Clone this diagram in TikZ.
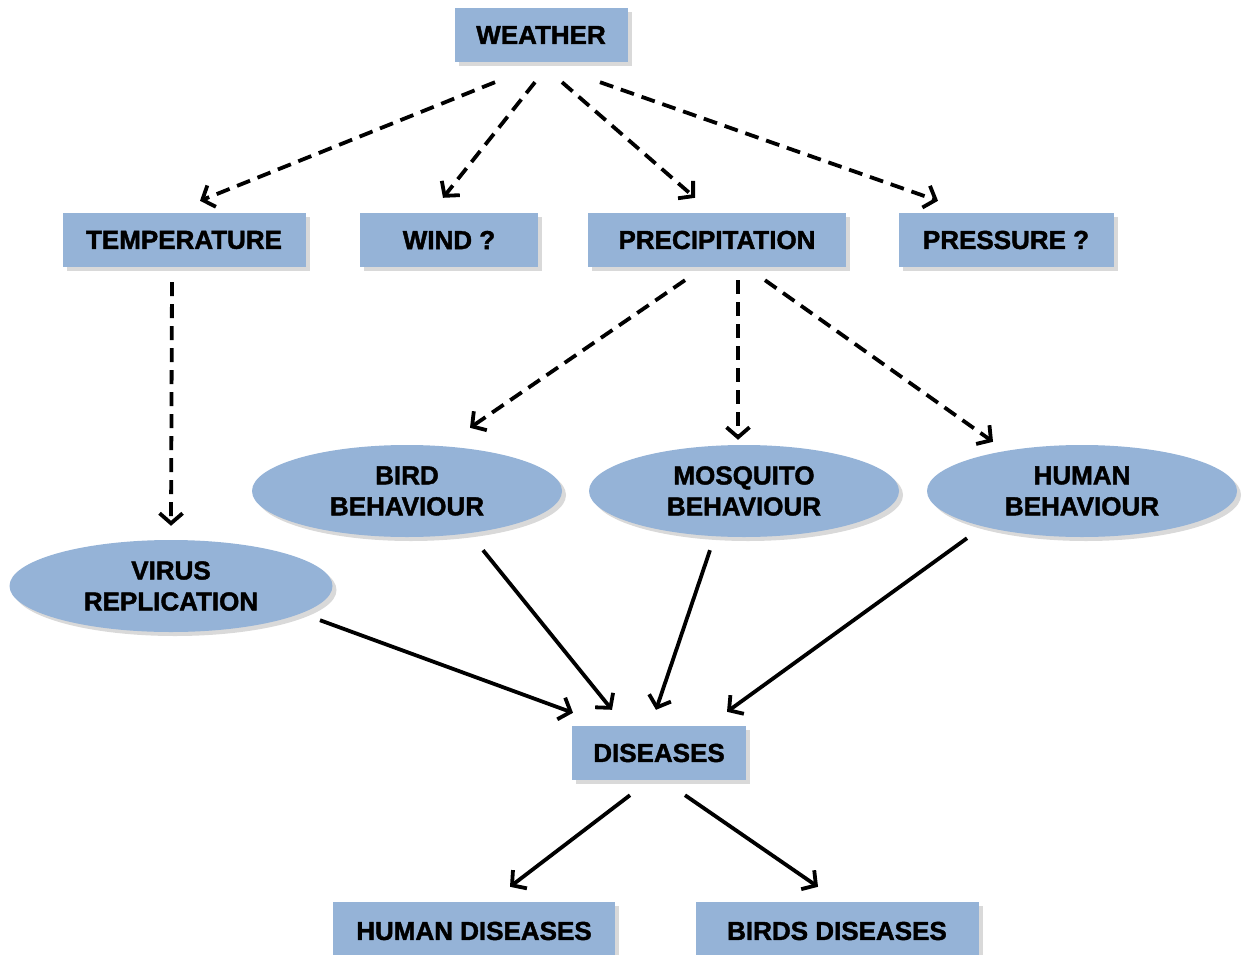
\documentclass[tikz,border=0pt]{standalone}
\usepackage{fontspec}
\setmainfont{Liberation Sans}[BoldFeatures={FakeBold=1.6}]
\usetikzlibrary{shapes.geometric,shadows,arrows.meta}
\definecolor{boxblue}{RGB}{149,179,215}

\begin{document}
\begin{tikzpicture}[x=1pt,y=-1pt,
    box/.style={fill=boxblue, minimum height=54pt, inner sep=0pt,
        font=\fontsize{26}{31}\selectfont\bfseries,
        drop shadow={opacity=.3,shadow xshift=4pt,shadow yshift=-4pt}},
    oval/.style={ellipse, fill=boxblue, inner sep=0pt, align=center,
        minimum width=310pt, minimum height=92pt,
        font=\fontsize{26}{31}\selectfont\bfseries,
        drop shadow={opacity=.3,shadow xshift=4pt,shadow yshift=-4pt}},
    dasharrow/.style={line width=3.8pt, dash pattern=on 14pt off 8pt,
        -{Straight Barb[length=10pt,width=23pt]}},
    fullarrow/.style={line width=3.8pt, -{Straight Barb[length=10pt,width=23pt]}}]
    \useasboundingbox (0,0) rectangle (1244,955);
    % top level
    \node[box, minimum width=173pt] (weather) at (541,35) {WEATHER};
    \node[box, minimum width=243pt] (temperature) at (184,240) {TEMPERATURE};
    \node[box, minimum width=178pt] (wind) at (449,240) {WIND ?};
    \node[box, minimum width=258pt] (precipitation) at (717,240) {PRECIPITATION};
    \node[box, minimum width=215pt] (pressure) at (1006,240) {PRESSURE ?};
    % behaviours
    \node[oval] (bird) at (407,491) {BIRD\\BEHAVIOUR};
    \node[oval] (mosquito) at (744,491) {MOSQUITO\\BEHAVIOUR};
    \node[oval] (human) at (1082,491) {HUMAN\\BEHAVIOUR};
    \node[oval, minimum width=323pt] (virus) at (171,586) {VIRUS\\REPLICATION};
    % outcomes
    \node[box, minimum width=174pt] (diseases) at (659,753) {DISEASES};
    \node[box, minimum width=282pt, minimum height=58pt] (humandis) at (474,931) {HUMAN DISEASES};
    \node[box, minimum width=283pt, minimum height=58pt] (birddis) at (837,931) {BIRDS DISEASES};

    \draw[dasharrow] ([xshift=-46pt,yshift=-20pt]weather.south) -- ([xshift=16pt,yshift=12pt]temperature.north);
    \draw[dasharrow] ([xshift=-6pt,yshift=-20pt]weather.south) -- ([xshift=-6pt,yshift=15pt]wind.north);
    \draw[dasharrow] ([xshift=21pt,yshift=-20pt]weather.south) -- ([xshift=-22pt,yshift=15pt]precipitation.north);
    \draw[dasharrow] ([xshift=59pt,yshift=-20pt]weather.south) -- ([xshift=-68pt,yshift=12pt]pressure.north);
    \draw[dasharrow] ([xshift=-12pt,yshift=-15pt]temperature.south) -- ([yshift=14pt]virus.north);
    \draw[dasharrow] ([xshift=-32pt,yshift=-13pt]precipitation.south) -- ([xshift=63pt,yshift=17pt]bird.north);
    \draw[dasharrow] ([xshift=21pt,yshift=-13pt]precipitation.south) -- ([xshift=-6pt,yshift=5pt]mosquito.north);
    \draw[dasharrow] ([xshift=48pt,yshift=-13pt]precipitation.south) -- ([xshift=-89pt,yshift=3pt]human.north);

    \draw[fullarrow] ([xshift=149pt,yshift=12pt]virus.south) -- ([xshift=-86pt,yshift=13pt]diseases.north);
    \draw[fullarrow] ([xshift=76pt,yshift=-13pt]bird.south) -- ([xshift=-47pt,yshift=16pt]diseases.north);
    \draw[fullarrow] ([xshift=-34pt,yshift=-13pt]mosquito.south) -- ([xshift=-3pt,yshift=16pt]diseases.north);
    \draw[fullarrow] ([xshift=-115pt,yshift=-1pt]human.south) -- ([xshift=68pt,yshift=14pt]diseases.north);
    \draw[fullarrow] ([xshift=-29pt,yshift=-15pt]diseases.south) -- ([xshift=36pt,yshift=15pt]humandis.north);
    \draw[fullarrow] ([xshift=26pt,yshift=-15pt]diseases.south) -- ([xshift=-19pt,yshift=15pt]birddis.north);
\end{tikzpicture}
\end{document}
